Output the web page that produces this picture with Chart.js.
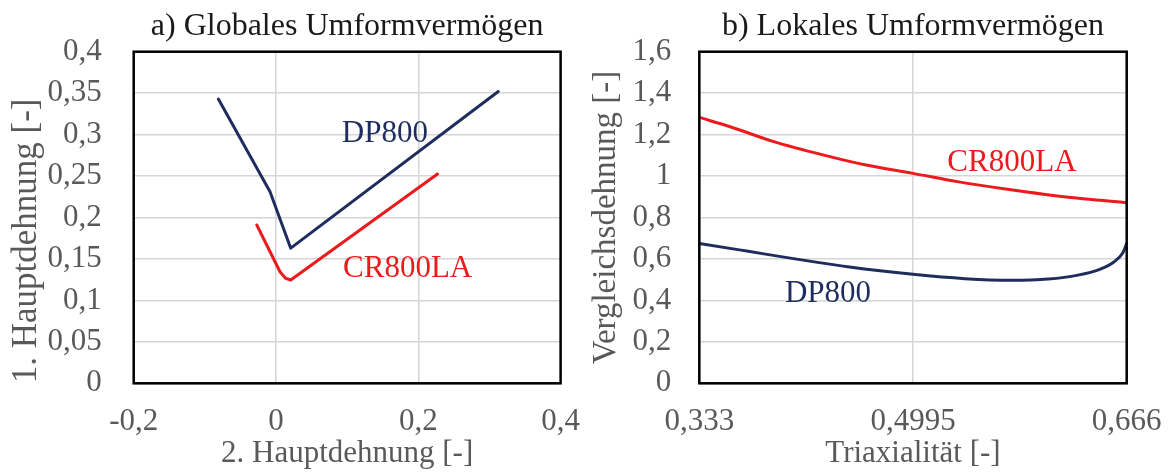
<!DOCTYPE html>
<html lang="de">
<head>
<meta charset="utf-8">
<title>Umformvermögen DP800 / CR800LA</title>
<script src="https://cdn.jsdelivr.net/npm/chart.js@4.4.1/dist/chart.umd.min.js"></script>
<style>
  html, body { margin: 0; padding: 0; background: #fff; }
  #wrap { position: relative; width: 1169px; height: 472px; overflow: hidden; background: #fff; }
  #wrap canvas { position: absolute; top: 0; }
  #global { left: 0; }
  #local { left: 580px; }
</style>
</head>
<body>
<div id="wrap">
  <canvas id="global" width="580" height="472"></canvas>
  <canvas id="local" width="589" height="472"></canvas>
</div>
<script>
// ---- a) Globales Umformvermögen: Grenzformänderungskurven ----
const globalTicksX = [-0.2, 0, 0.2, 0.4];
const globalTicksY = [0, 0.05, 0.1, 0.15, 0.2, 0.25, 0.3, 0.35, 0.4];

const globalDP800X = [-0.081, -0.0084, 0.0207, 0.3124];
const globalDP800Y = [0.343, 0.231, 0.163, 0.352];

const globalCR800LAX = [-0.027, 0.0056, 0.0134, 0.0207, 0.227];
const globalCR800LAY = [0.191, 0.1346, 0.1267, 0.1246, 0.2525];

// ---- b) Lokales Umformvermögen: Vergleichsdehnung über Triaxialität ----
const localTicksX = [0.333, 0.4995, 0.666];
const localTicksY = [0, 0.2, 0.4, 0.6, 0.8, 1.0, 1.2, 1.4, 1.6];

const localCR800LAX = [0.333, 0.357, 0.391, 0.430, 0.463, 0.4995, 0.534, 0.573, 0.612, 0.666];
const localCR800LAY = [1.283, 1.238, 1.166, 1.101, 1.053, 1.013, 0.973, 0.936, 0.904, 0.871];

const localDP800X = [0.333, 0.370, 0.410, 0.450, 0.4995, 0.540, 0.575, 0.605, 0.628, 0.645, 0.656, 0.663, 0.666];
const localDP800Y = [0.675, 0.638, 0.598, 0.561, 0.526, 0.505, 0.497, 0.503, 0.522, 0.550, 0.585, 0.630, 0.675];

// Series names, written next to their curves
const seriesNames = ['DP800', 'CR800LA'];

// ---- styling ----
const FONT = "'Liberation Serif', 'Times New Roman', serif";
const NAVY = '#1f2d5e';
const RED = '#ec1a1c';
const GRID = '#d6d6d6';
const AXIS_TEXT = '#595959';
const TITLE_TEXT = '#1a1a1a';

const fmt = v => String(+Number(v).toFixed(4)).replace('.', ',');
const pairs = (xs, ys) => xs.map((x, i) => ({ x, y: ys[i] }));

// Black frame around the plot area
const plotFrame = {
  id: 'plotFrame',
  afterDatasetsDraw(chart) {
    const { ctx, chartArea: a } = chart;
    ctx.save();
    ctx.strokeStyle = '#000';
    ctx.lineWidth = 2.5;
    ctx.strokeRect(a.left, a.top, a.right - a.left, a.bottom - a.top);
    ctx.restore();
  }
};

// Panel heading, centred over the plot area
const panelTitle = text => ({
  id: 'panelTitle',
  afterDraw(chart) {
    const { ctx, chartArea: a } = chart;
    ctx.save();
    ctx.font = `32px ${FONT}`;
    ctx.fillStyle = TITLE_TEXT;
    ctx.textAlign = 'center';
    ctx.textBaseline = 'middle';
    ctx.fillText(text, (a.left + a.right) / 2, 27);
    ctx.restore();
  }
});

// Dataset names placed at data coordinates in the series colour
const seriesLabels = anchors => ({
  id: 'seriesLabels',
  beforeDatasetsDraw(chart) {
    const { ctx, scales } = chart;
    ctx.save();
    ctx.font = `31px ${FONT}`;
    ctx.textAlign = 'center';
    ctx.textBaseline = 'middle';
    anchors.forEach(an => {
      const ds = chart.data.datasets[an.dataset];
      ctx.fillStyle = ds.borderColor;
      ctx.fillText(ds.label, scales.x.getPixelForValue(an.x), scales.y.getPixelForValue(an.y));
    });
    ctx.restore();
  }
});

function axis(opts) {
  const horizontal = opts.horizontal;
  return {
    type: 'linear',
    min: opts.ticks[0],
    max: opts.ticks[opts.ticks.length - 1],
    afterBuildTicks: s => { s.ticks = opts.ticks.map(v => ({ value: v })); },
    afterFit: s => {
      if (horizontal) { s.height = opts.size; s.paddingLeft = 0; s.paddingRight = 0; }
      else { s.width = opts.size; s.paddingTop = 0; s.paddingBottom = 0; }
    },
    ticks: {
      callback: v => fmt(v),
      color: AXIS_TEXT,
      font: { family: FONT, size: 31 },
      padding: opts.tickPadding,
      autoSkip: false,
      maxRotation: 0
    },
    grid: { color: GRID, lineWidth: 1.5, drawTicks: false },
    border: { display: false },
    title: {
      display: true,
      text: opts.title,
      color: AXIS_TEXT,
      align: opts.titleAlign || 'center',
      font: { family: FONT, size: opts.titleSize },
      padding: opts.titlePadding
    }
  };
}

function lineSet(label, xs, ys, color, smooth) {
  return {
    label,
    data: pairs(xs, ys),
    borderColor: color,
    backgroundColor: color,
    borderWidth: 3,
    pointRadius: 0,
    fill: false,
    tension: 0,
    cubicInterpolationMode: smooth ? 'monotone' : 'default',
    borderCapStyle: 'round',
    borderJoinStyle: 'round'
  };
}

const common = {
  responsive: false,
  animation: false,
  devicePixelRatio: 1,
  plugins: { legend: { display: false }, tooltip: { enabled: false } }
};

new Chart(document.getElementById('global'), {
  type: 'line',
  data: {
    datasets: [
      lineSet(seriesNames[0], globalDP800X, globalDP800Y, NAVY, false),
      lineSet(seriesNames[1], globalCR800LAX, globalCR800LAY, RED, false)
    ]
  },
  options: {
    ...common,
    layout: { padding: { top: 51.7, left: 0, right: 19.4, bottom: 0 } },
    scales: {
      x: axis({ horizontal: true, ticks: globalTicksX, size: 88.7, tickPadding: 20,
                title: '2. Hauptdehnung [-]', titleSize: 31, titlePadding: { top: 0, bottom: 0 } }),
      y: axis({ horizontal: false, ticks: globalTicksY, size: 133.7, tickPadding: 32,
                title: '1. Hauptdehnung [-]', titleSize: 35, titleAlign: 'start', titlePadding: { top: 6, bottom: 0 } })
    }
  },
  plugins: [
    plotFrame,
    panelTitle('a) Globales Umformvermögen'),
    seriesLabels([{ dataset: 0, x: 0.153, y: 0.301 }, { dataset: 1, x: 0.185, y: 0.138 }])
  ]
});

new Chart(document.getElementById('local'), {
  type: 'line',
  data: {
    datasets: [
      lineSet(seriesNames[1], localCR800LAX, localCR800LAY, RED, true),
      lineSet(seriesNames[0], localDP800X, localDP800Y, NAVY, true)
    ]
  },
  options: {
    ...common,
    layout: { padding: { top: 51.7, left: 0, right: 42.3, bottom: 0 } },
    scales: {
      x: axis({ horizontal: true, ticks: localTicksX, size: 88.7, tickPadding: 20,
                title: 'Triaxialität [-]', titleSize: 31, titlePadding: { top: 0, bottom: 0 } }),
      y: axis({ horizontal: false, ticks: localTicksY, size: 119.3, tickPadding: 28,
                title: 'Vergleichsdehnung [-]', titleSize: 33, titlePadding: { top: 7, bottom: 0 } })
    }
  },
  plugins: [
    plotFrame,
    panelTitle('b) Lokales Umformvermögen'),
    seriesLabels([{ dataset: 0, x: 0.5766, y: 1.063 }, { dataset: 1, x: 0.4333, y: 0.431 }])
  ]
});
</script>
</body>
</html>
